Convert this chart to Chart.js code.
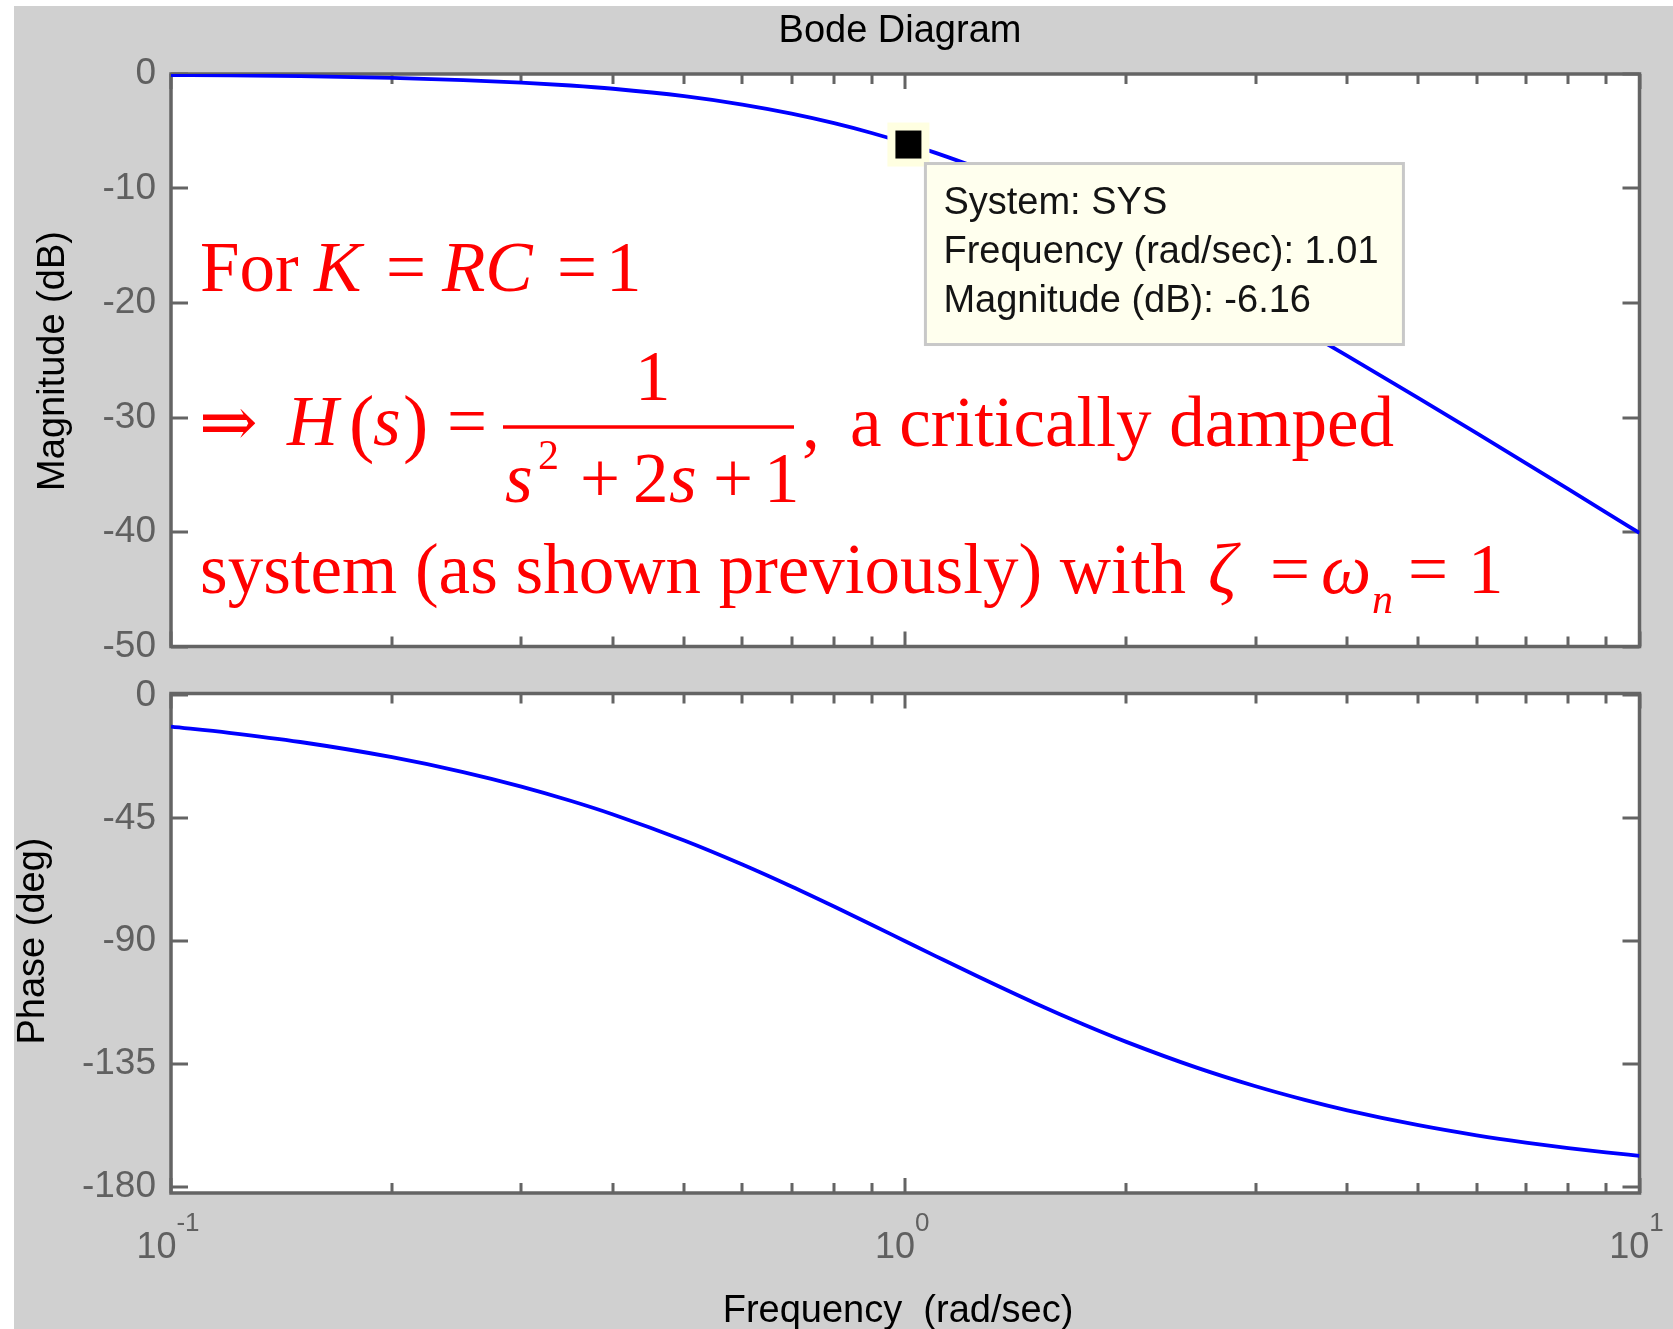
<!DOCTYPE html>
<html>
<head>
<meta charset="utf-8">
<title>Bode Diagram</title>
<script src="https://cdn.jsdelivr.net/npm/chart.js@4.4.1/dist/chart.umd.min.js"></script>
<style>
  html, body { margin: 0; padding: 0; background: #ffffff; }
  body { width: 1673px; height: 1329px; position: relative; overflow: hidden; }
  #figure { position: absolute; left: 14px; top: 6px; right: 0; bottom: 0; background: #d0d0d0; }
  canvas { position: absolute; left: 0; }
  #magCanvas { top: 0; }
  #phaseCanvas { top: 660px; }
</style>
</head>
<body>
<div id="figure"></div>
<canvas id="magCanvas" width="1673" height="680"></canvas>
<canvas id="phaseCanvas" width="1673" height="669"></canvas>
<script>
// frequency points (rad/sec) along the curves
const freqs = [0.1, 0.12, 0.15, 0.2, 0.25, 0.3, 0.35, 0.4, 0.5, 0.6, 0.7, 0.8, 0.9, 1.0,
  1.1, 1.25, 1.5, 1.75, 2, 2.5, 3, 3.5, 4, 5, 6, 7, 8, 9, 10];

// magnitude (dB) at each frequency
const magDb = [-0.086, -0.124, -0.193, -0.341, -0.527, -0.749, -1.004, -1.289, -1.938, -2.671,
  -3.464, -4.297, -5.154, -6.021, -6.888, -8.173, -10.238, -12.176, -13.979, -17.207, -20.0,
  -22.444, -24.609, -28.299, -31.364, -33.979, -36.258, -38.276, -40.086];

// phase (deg) at each frequency
const phaseDeg = [-11.42, -13.69, -17.06, -22.62, -28.07, -33.40, -38.58, -43.60, -53.13, -61.93,
  -69.98, -77.32, -83.97, -90.0, -95.45, -102.68, -112.62, -120.51, -126.87, -136.40, -143.13,
  -148.11, -151.93, -157.38, -161.08, -163.74, -165.75, -167.32, -168.58];

// tick values
const magTicks = [0, -10, -20, -30, -40, -50];
const phaseTicks = [0, -45, -90, -135, -180];
const decadeTicks = [0.1, 1, 10];
const decadeExponents = ["-1", "0", "1"];
const minorTicks = [0.2, 0.3, 0.4, 0.5, 0.6, 0.7, 0.8, 0.9, 2, 3, 4, 5, 6, 7, 8, 9];

// data tip on the magnitude curve
const tipFreq = 1.01;
const tipMag = -6.16;
const tipLines = ["System: SYS", "Frequency (rad/sec): 1.01", "Magnitude (dB): -6.16"];

const AXIS_GRAY = "#646464";
const SANS = '"Liberation Sans", Arial, sans-serif';
const SERIF = '"Liberation Serif", "Times New Roman", "DejaVu Serif", serif';

// white plot area under everything
const plotBackground = {
  id: "plotBackground",
  beforeDraw(chart) {
    const a = chart.chartArea;
    chart.ctx.save();
    chart.ctx.fillStyle = "#ffffff";
    chart.ctx.fillRect(a.left, a.top, a.right - a.left, a.bottom - a.top);
    chart.ctx.restore();
  }
};

// box round the axes plus inward ticks on all four sides
const axesFrame = {
  id: "axesFrame",
  beforeDatasetsDraw(chart) {
    const { ctx, chartArea: a, scales } = chart;
    ctx.save();
    ctx.strokeStyle = AXIS_GRAY;
    ctx.lineWidth = 3.5;
    ctx.strokeRect(a.left, a.top, a.right - a.left, a.bottom - a.top);

    ctx.lineWidth = 3;
    ctx.beginPath();
    minorTicks.concat(decadeTicks).forEach(v => {
      const x = Math.round(scales.x.getPixelForValue(v));
      const len = decadeTicks.includes(v) ? 15 : 10;
      ctx.moveTo(x, a.top);
      ctx.lineTo(x, a.top + len);
      ctx.moveTo(x, a.bottom);
      ctx.lineTo(x, a.bottom - len);
    });
    scales.y.ticks.forEach(t => {
      const y = Math.round(scales.y.getPixelForValue(t.value));
      ctx.moveTo(a.left, y);
      ctx.lineTo(a.left + 17, y);
      ctx.moveTo(a.right, y);
      ctx.lineTo(a.right - 17, y);
    });
    ctx.stroke();
    ctx.restore();
  }
};

function drawVerticalLabel(ctx, text, x, y) {
  ctx.save();
  ctx.translate(x, y);
  ctx.rotate(-Math.PI / 2);
  ctx.fillStyle = "#000000";
  ctx.font = "38px " + SANS;
  ctx.textAlign = "center";
  ctx.textBaseline = "middle";
  ctx.fillText(text, 0, 0);
  ctx.restore();
}

// one piece of the red note: text, x, baseline, size, italic
function put(ctx, text, x, y, size, italic) {
  ctx.font = (italic ? "italic " : "") + size + "px " + SERIF;
  ctx.fillText(text, x, y);
}

function drawNote(ctx) {
  ctx.save();
  ctx.fillStyle = "#ff0000";
  ctx.strokeStyle = "#ff0000";
  ctx.textAlign = "left";
  ctx.textBaseline = "alphabetic";

  // For K = RC = 1
  put(ctx, "For", 200, 291, 71, false);
  put(ctx, "K", 314, 291, 71, true);
  put(ctx, "=", 386, 291, 71, false);
  put(ctx, "RC", 442, 291, 71, true);
  put(ctx, "=", 557, 291, 71, false);
  put(ctx, "1", 606, 291, 71, false);

  // => H(s) = 1 / (s^2 + 2s + 1), a critically damped
  put(ctx, "\u21D2", 199, 446, 70, false);
  put(ctx, "H", 287, 445, 71, true);
  put(ctx, "(", 349, 448, 76, false);
  put(ctx, "s", 373, 445, 71, true);
  put(ctx, ")", 403, 448, 76, false);
  put(ctx, "=", 447, 445, 71, false);
  ctx.lineWidth = 3.5;
  ctx.beginPath();
  ctx.moveTo(503, 427);
  ctx.lineTo(794, 427);
  ctx.stroke();
  put(ctx, "1", 635, 400, 71, false);
  put(ctx, "s", 505, 502, 71, true);
  put(ctx, "2", 538, 469, 42, false);
  put(ctx, "+", 580, 502, 71, false);
  put(ctx, "2", 633, 502, 71, false);
  put(ctx, "s", 669, 502, 71, true);
  put(ctx, "+", 713, 502, 71, false);
  put(ctx, "1", 764, 502, 71, false);
  put(ctx, ",", 802, 447, 71, false);
  put(ctx, "a critically damped", 850, 446, 71, false);

  // system (as shown previously) with zeta = omega_n = 1
  put(ctx, "system (as shown previously) with", 200, 593, 71, false);
  put(ctx, "\u03B6", 1208, 593, 71, true);
  put(ctx, "=", 1270, 593, 71, false);
  put(ctx, "\u03C9", 1321, 593, 71, true);
  put(ctx, "n", 1372, 613, 42, true);
  put(ctx, "=", 1408, 593, 71, false);
  put(ctx, "1", 1468, 593, 71, false);
  ctx.restore();
}

// title, y label, data tip and the note on the magnitude axes
const magExtras = {
  id: "magExtras",
  afterDraw(chart) {
    const { ctx, scales } = chart;
    ctx.save();
    ctx.fillStyle = "#000000";
    ctx.font = "38px " + SANS;
    ctx.textAlign = "center";
    ctx.fillText("Bode Diagram", 900, 42);
    ctx.restore();
    drawVerticalLabel(ctx, "Magnitude (dB)", 54, 361);

    const px = scales.x.getPixelForValue(tipFreq);
    const py = scales.y.getPixelForValue(tipMag);
    ctx.save();
    ctx.fillStyle = "#ffffe1";
    ctx.fillRect(px - 21, py - 22, 42, 44);
    ctx.fillStyle = "#000000";
    ctx.fillRect(px - 13, py - 14, 26, 28);

    ctx.fillStyle = "#ffffee";
    ctx.fillRect(px + 17, py + 19, 478, 181);
    ctx.strokeStyle = "#c8c8c8";
    ctx.lineWidth = 3;
    ctx.strokeRect(px + 17, py + 19, 478, 181);
    ctx.fillStyle = "#141414";
    ctx.font = "38px " + SANS;
    ctx.textAlign = "left";
    tipLines.forEach((line, i) => {
      ctx.fillText(line, px + 35, py + 69 + i * 49);
    });
    ctx.restore();

    drawNote(ctx);
  }
};

// decade labels, x label and y label on the phase axes
const phaseExtras = {
  id: "phaseExtras",
  afterDraw(chart) {
    const { ctx, scales } = chart;
    drawVerticalLabel(ctx, "Phase (deg)", 34, 281);
    ctx.save();
    ctx.fillStyle = "#606060";
    ctx.textAlign = "left";
    decadeTicks.forEach((v, i) => {
      const x = scales.x.getPixelForValue(v);
      ctx.font = "36px " + SANS;
      const baseW = ctx.measureText("10").width;
      ctx.font = "26px " + SANS;
      const expW = ctx.measureText(decadeExponents[i]).width;
      const start = x - 3 - (baseW + expW) / 2;
      ctx.font = "36px " + SANS;
      ctx.fillText("10", start, 598);
      ctx.font = "26px " + SANS;
      ctx.fillText(decadeExponents[i], start + baseW, 571);
    });
    ctx.fillStyle = "#000000";
    ctx.font = "38px " + SANS;
    ctx.textAlign = "center";
    ctx.fillText("Frequency  (rad/sec)", 898, 662);
    ctx.restore();
  }
};

function makeChart(canvasId, values, yMin, yMax, yTicks, pad, extras) {
  return new Chart(document.getElementById(canvasId), {
    type: "line",
    data: {
      datasets: [{
        data: freqs.map((f, i) => ({ x: f, y: values[i] })),
        borderColor: "#0000ff",
        borderWidth: 3.8,
        pointRadius: 0,
        cubicInterpolationMode: "monotone",
        fill: false
      }]
    },
    options: {
      responsive: false,
      animation: false,
      events: [],
      layout: { padding: pad },
      plugins: {
        legend: { display: false },
        tooltip: { enabled: false },
        title: { display: false }
      },
      scales: {
        x: { type: "logarithmic", min: 0.1, max: 10, display: false },
        y: {
          min: yMin,
          max: yMax,
          afterBuildTicks: s => { s.ticks = yTicks.map(v => ({ value: v })); },
          afterFit: s => { s.width = 171; },
          grid: { display: false, drawTicks: false },
          border: { display: false },
          ticks: {
            color: "#606060",
            padding: 15,
            font: { family: SANS, size: 37, lineHeight: 1 },
            callback: v => String(v)
          }
        }
      }
    },
    plugins: [plotBackground, axesFrame, extras]
  });
}

window.addEventListener("DOMContentLoaded", () => {
  makeChart("magCanvas", magDb, -50, 0, magTicks,
    { left: 0, top: 74, right: 33.5, bottom: 33 }, magExtras);
  makeChart("phaseCanvas", phaseDeg, -182.2, 0.7, phaseTicks,
    { left: 0, top: 29, right: 33.5, bottom: 136 }, phaseExtras);
});
</script>
</body>
</html>
